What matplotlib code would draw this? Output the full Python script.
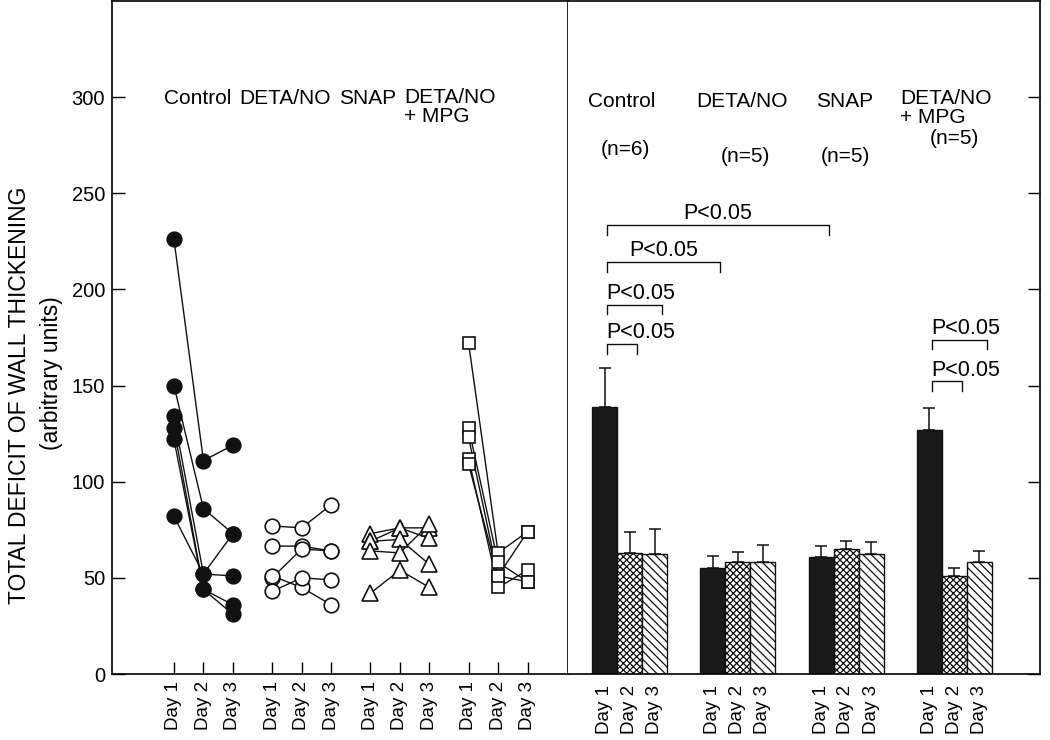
import matplotlib
matplotlib.use('Agg')
import matplotlib.pyplot as plt
import numpy as np

plt.rcParams['font.family'] = ['Liberation Sans', 'DejaVu Sans']
plt.rcParams['hatch.linewidth'] = 0.9

# ---- data ----
days = ['Day 1', 'Day 2', 'Day 3']
groups = ['Control', 'DETA/NO', 'SNAP', 'DETA/NO\n+ MPG']
n_labels = ['(n=6)', '(n=5)', '(n=5)', '(n=5)']

# individual animals (Day 1, Day 2, Day 3)
control_ind = [[226, 111, 119], [150, 86, 73], [82, 52, 73],
               [134, 52, 51], [128, 44, 36], [122, 44, 31]]
deta_ind = [[77, 76, 88], [66.5, 66.5, 64], [50, 65, 64],
            [51, 45, 36], [43, 50, 49]]
snap_ind = [[73, 76, 76], [69, 76, 70.5], [69, 70, 57],
            [64, 63, 78], [42, 54, 45]]
mpg_ind = [[172, 63, 74], [128, 58, 48], [123, 51, 74],
           [112, 45, 54], [109, 51, 48]]

# group means and SEM (Day 1, Day 2, Day 3)
control_mean = [139, 63, 62.5]
control_sem = [20, 11, 13]
deta_mean = [55, 58, 58]
deta_sem = [6.5, 5.5, 9]
snap_mean = [61, 65, 62.5]
snap_sem = [5.5, 4, 6]
mpg_mean = [127, 51, 58]
mpg_sem = [11.5, 4, 6]

# significance brackets: (group, day) -> (group, day), level
brackets = [((0, 0), (2, 0), 233.4),
            ((0, 0), (1, 0), 214.3),
            ((0, 0), (0, 2), 192.0),
            ((0, 0), (0, 1), 171.6),
            ((3, 0), (3, 2), 173.8),
            ((3, 0), (3, 1), 152.2)]

individuals = [control_ind, deta_ind, snap_ind, mpg_ind]
means = [control_mean, deta_mean, snap_mean, mpg_mean]
sems = [control_sem, deta_sem, snap_sem, mpg_sem]

markers = ['o', 'o', '^', 's']
fills = ['#111111', 'white', 'white', 'white']
msizes = [10.5, 10.5, 11.5, 9]

fig = plt.figure(figsize=(10.5, 7.4), dpi=100)
W, H = 1050, 740
axL = fig.add_axes([112 / W, 66 / H, 456 / W, 673 / H])
axR = fig.add_axes([568 / W, 66 / H, 472 / W, 673 / H])

# ---- left panel: individual animals ----
gsp_left = 3.33
for g, animals in enumerate(individuals):
    xs = g * gsp_left + np.arange(3)
    for a in animals:
        axL.plot(xs, a, '-', color='#111111', lw=1.0, zorder=2)
        axL.plot(xs, a, linestyle='none', marker=markers[g], ms=msizes[g],
                 mfc=fills[g], mec='#111111', mew=1.2, zorder=3)

xt = [g * gsp_left + d for g in range(4) for d in range(3)]
axL.set_xticks(xt)
axL.set_xticklabels(days * 4, rotation=90, fontsize=13.5)
axL.set_xlim(-2.1, 13.36)
axL.set_ylim(0, 350)
axL.set_yticks(np.arange(0, 301, 50))
axL.tick_params(axis='y', direction='in', length=9, width=1, labelsize=14.5, pad=5)
axL.tick_params(axis='x', direction='in', length=9, width=1, pad=5)
for s in axL.spines.values():
    s.set_linewidth(1.2)

hdr_left_x = [0.8, 3.76, 6.58, 7.8]
for i, name in enumerate(groups):
    if '\n' in name:
        axL.text(hdr_left_x[i], 305, name, ha='left', va='top', fontsize=15,
                 linespacing=1.0)
    else:
        axL.text(hdr_left_x[i], 299.4, name, ha='center', va='center', fontsize=15)

# ---- right panel: mean bars ----
gsp_right = 4.33
bar_colors = ['#1a1a1a', 'white', 'white']
hatches = [None, 'xxxxx', '\\\\\\\\']
for g in range(4):
    xs = g * gsp_right + np.arange(3)
    for d in range(3):
        axR.bar(xs[d], means[g][d], width=1.0, color=bar_colors[d],
                edgecolor='#111111', linewidth=1.0, hatch=hatches[d], zorder=2)
    axR.errorbar(xs, means[g], yerr=[np.zeros(3), sems[g]], fmt='none',
                 ecolor='#111111', elinewidth=1.1, capsize=4.5, capthick=1.1, zorder=1)

xr = [g * gsp_right + d for g in range(4) for d in range(3)]
axR.set_xticks(xr)
axR.set_xticklabels(days * 4, rotation=90, fontsize=13.5)
axR.tick_params(axis='x', length=0, pad=8)
axR.set_xlim(-1.46, 17.42)
axR.set_ylim(0, 350)
axR.set_yticks(np.arange(0, 301, 50))
axR.yaxis.tick_right()
axR.tick_params(axis='y', direction='in', length=9, width=1, labelright=False)
axR.spines['left'].set_visible(False)
for s in axR.spines.values():
    s.set_linewidth(1.2)

hdr_right_x = [0.7, 5.5, 9.62, 11.82]
n_xy = [(0.82, 273), (5.62, 269.3), (9.62, 269.3), (14.0, 278.5)]
for i, name in enumerate(groups):
    if '\n' in name:
        axR.text(hdr_right_x[i], 304, name, ha='left', va='top', fontsize=15,
                 linespacing=1.0)
    else:
        axR.text(hdr_right_x[i], 297.9, name, ha='center', va='center', fontsize=15)
    axR.text(n_xy[i][0], n_xy[i][1], n_labels[i], ha='center', va='center',
             fontsize=15)

# significance brackets
for (g1, d1), (g2, d2), lev in brackets:
    x1 = g1 * gsp_right + d1 + 0.1
    x2 = g2 * gsp_right + d2 + 0.3
    axR.plot([x1, x1, x2, x2], [lev - 5, lev, lev, lev - 5], color='#111111',
             lw=1.0, zorder=3)
    xm = max((x1 + x2) / 2, x1 + 1.36)
    axR.text(xm, lev + 3, 'P<0.05', ha='center', va='baseline', fontsize=15.5)

fig.text(20 / W, 1 - 395 / H, 'TOTAL DEFICIT OF WALL THICKENING', rotation=90,
         ha='center', va='center', fontsize=16.5)
fig.text(52 / W, 1 - 373 / H, '(arbitrary units)', rotation=90,
         ha='center', va='center', fontsize=16.5)

fig.savefig('out.png', dpi=100)
